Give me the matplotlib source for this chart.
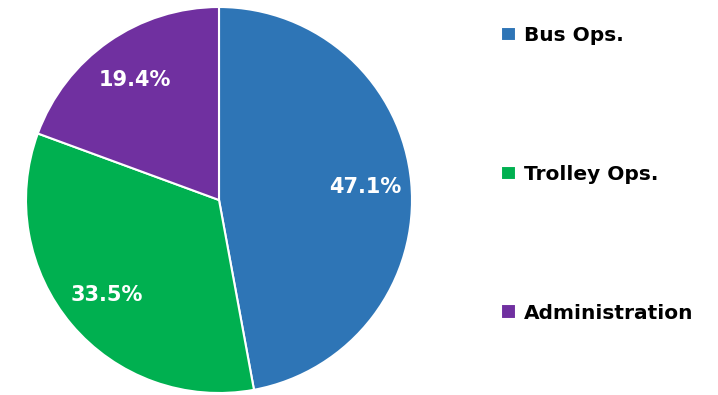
import matplotlib.pyplot as plt

categories = ["Bus Ops.", "Trolley Ops.", "Administration"]
shares = [47.1, 33.5, 19.4]
colors = ["#2E75B6", "#00B050", "#7030A0"]

W, H = 718, 395
fig = plt.figure(figsize=(W / 100, H / 100), dpi=100)

# pie centred at (219, 200) px with radius 193 px
cx, cy, r = 219, 200, 193
ax = fig.add_axes([(cx - r) / W, (H - cy - r) / H, 2 * r / W, 2 * r / H])

wedges, texts, autotexts = ax.pie(
    shares,
    colors=colors,
    startangle=90,
    counterclock=False,
    autopct=lambda p: f"{p:.1f}%",
    pctdistance=0.76,
    wedgeprops=dict(edgecolor="white", linewidth=1.5),
    textprops=dict(color="white", fontsize=15, fontweight="bold"),
)
ax.set_xlim(-1, 1)
ax.set_ylim(-1, 1)
ax.set_aspect("equal")

fig.legend(
    wedges,
    categories,
    loc="upper left",
    bbox_to_anchor=(483 / W, 1 - 8 / H),
    frameon=False,
    handlelength=0.75,
    handleheight=0.75,
    handletextpad=0.4,
    labelspacing=5.95,
    prop=dict(size=14.5, weight="bold"),
)

fig.savefig("out.png", dpi=100)
